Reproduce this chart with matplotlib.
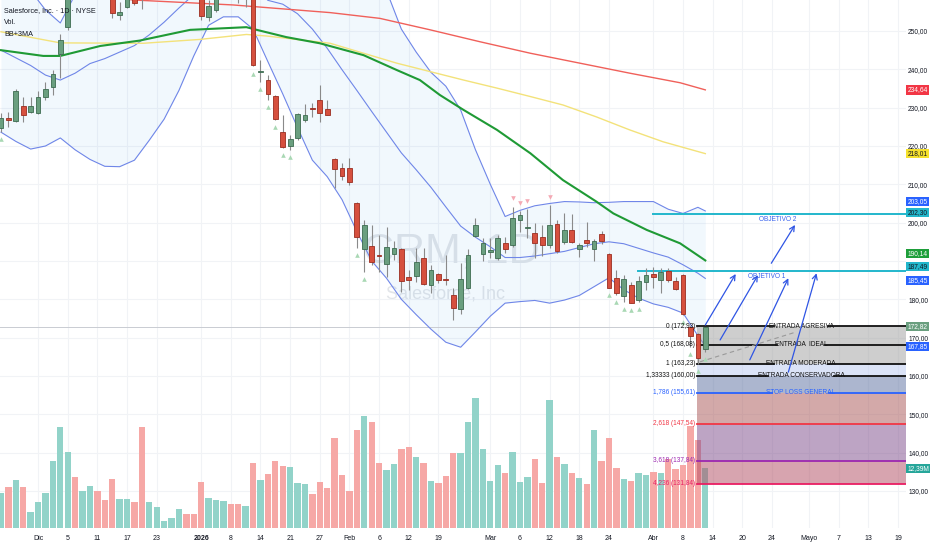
import numpy as np
import pandas as pd
import matplotlib
matplotlib.use('Agg')
import matplotlib.pyplot as plt
from matplotlib.transforms import blended_transform_factory

plt.rcParams['font.family'] = ['Liberation Sans Narrow', 'Liberation Sans', 'DejaVu Sans']

#NYSE sessions, holidays removed
holidays = ['2025-11-27', '2025-12-25', '2026-01-01', '2026-01-19', '2026-02-16', '2026-04-03']
sessions = pd.bdate_range('2025-11-21', '2026-05-22')
sessions = sessions[~sessions.isin(pd.to_datetime(holidays))]

#Daily candles CRM (21 Nov 2025 - 13 Apr 2026)
opens = [224.7, 227.4, 226.5, 230.4, 228.9, 228.6, 232.8, 235.4, 244.0, 251.0,
         262.0, 259.5, 261.0, 263.5, 262.0, 260.0, 254.2, 256.3, 261.0, 262.0,
         259.0, 261.0, 263.0, 264.0, 264.0, 265.0, 264.0, 261.0, 253.7, 255.5,
         261.0, 264.0, 262.0, 259.0, 261.0, 239.2, 237.2, 233.0, 223.6, 220.0,
         222.1, 226.8, 229.8, 232.0, 229.7, 216.6, 214.3, 214.3, 205.1, 193.1,
         193.9, 191.4, 189.1, 191.8, 193.1, 185.8, 186.2, 190.9, 183.7, 186.6,
         185.3, 181.1, 177.4, 182.9, 196.5, 191.7, 192.3, 190.7, 194.8, 194.2,
         200.7, 198.5, 197.2, 196.2, 194.2, 199.6, 194.9, 198.1, 193.0, 195.5,
         193.0, 197.0, 191.8, 185.5, 180.9, 183.7, 179.8, 184.6, 186.5, 185.0,
         187.4, 184.9, 186.3, 172.9, 171.0, 167.0]
highs = [228.6, 228.9, 234.9, 232.8, 232.8, 234.3, 236.7, 239.8, 249.2, 262.0,
         264.0, 263.0, 265.0, 264.5, 263.0, 261.0, 257.5, 261.0, 262.5, 263.0,
         262.0, 264.0, 264.5, 265.5, 266.0, 266.0, 265.0, 262.0, 258.0, 262.0,
         265.0, 265.0, 263.0, 263.0, 262.0, 242.4, 238.5, 233.3, 228.1, 222.9,
         228.6, 231.0, 231.2, 235.9, 232.0, 216.8, 215.6, 216.9, 205.3, 200.7,
         199.4, 196.8, 198.9, 195.2, 193.3, 187.6, 193.3, 193.3, 188.9, 186.8,
         191.5, 182.9, 189.4, 193.0, 201.1, 195.9, 195.9, 196.8, 196.2, 204.2,
         203.0, 203.5, 199.8, 199.4, 204.6, 200.7, 202.4, 202.2, 194.6, 200.2,
         195.8, 197.9, 192.0, 187.6, 186.3, 184.6, 186.1, 188.2, 188.5, 188.1,
         188.1, 185.9, 186.5, 172.93, 171.2, 172.9]
lows = [223.6, 225.0, 226.3, 226.3, 228.6, 228.3, 232.0, 233.3, 237.7, 250.2,
        258.5, 258.8, 260.0, 259.5, 258.3, 253.4, 252.9, 256.0, 256.8, 255.7,
        258.5, 260.0, 262.5, 263.5, 262.5, 263.0, 261.0, 252.9, 252.6, 255.0,
        260.0, 259.5, 257.3, 256.3, 240.8, 236.7, 232.0, 226.8, 219.5, 219.0,
        221.6, 226.3, 227.6, 226.3, 228.0, 209.0, 211.1, 209.8, 193.4, 187.2,
        188.9, 187.0, 185.7, 190.3, 182.0, 182.4, 184.6, 183.8, 181.6, 184.2,
        183.7, 174.6, 176.2, 182.7, 196.2, 190.1, 190.7, 190.3, 192.0, 193.7,
        197.6, 195.9, 190.7, 191.3, 193.3, 192.2, 194.4, 194.6, 191.1, 193.7,
        190.0, 194.4, 182.9, 181.1, 179.4, 179.0, 179.4, 182.3, 182.9, 181.6,
        184.6, 182.3, 175.9, 167.5, 163.23, 166.3]
closes = [227.3, 226.9, 234.3, 228.1, 230.4, 232.8, 234.9, 238.8, 247.7, 260.5,
          259.5, 261.5, 263.5, 261.0, 259.0, 254.7, 255.0, 260.0, 257.3, 259.0,
          261.0, 263.0, 264.0, 264.6, 265.0, 264.0, 261.5, 253.9, 256.5, 261.0,
          264.0, 261.0, 260.0, 262.0, 241.1, 239.4, 233.6, 227.0, 219.7, 221.8,
          228.3, 228.1, 229.6, 228.6, 228.1, 214.0, 212.2, 210.6, 196.3, 199.4,
          189.7, 191.2, 193.7, 193.4, 184.8, 185.1, 189.7, 184.0, 187.6, 185.1,
          185.1, 177.8, 185.2, 191.5, 199.4, 194.6, 192.9, 195.9, 193.0, 201.3,
          202.0, 198.7, 194.8, 194.1, 199.4, 192.6, 198.1, 195.0, 194.2, 194.8,
          195.3, 195.1, 182.9, 181.7, 185.3, 179.1, 184.8, 186.3, 185.9, 187.0,
          185.0, 182.6, 176.1, 170.5, 164.6, 172.82]
#Volume in millions
volumes = [7.2, 8.4, 10.0, 8.4, 3.3, 5.4, 7.3, 13.8, 21.0, 15.8,
           10.6, 7.7, 8.7, 7.6, 5.8, 10.2, 6.0, 6.0, 5.3, 20.9,
           5.3, 4.4, 1.5, 2.1, 3.9, 2.9, 2.9, 9.5, 6.2, 5.8,
           5.6, 4.9, 4.9, 4.6, 13.5, 10.0, 11.3, 13.9, 12.9, 12.6,
           9.3, 9.1, 7.1, 9.5, 8.2, 18.6, 11.0, 7.7, 20.3, 23.2,
           21.9, 13.5, 12.0, 13.3, 16.4, 16.8, 14.8, 13.5, 9.8, 9.3,
           10.7, 15.5, 15.5, 22.0, 27.0, 16.4, 9.8, 13.1, 11.4, 15.8,
           9.5, 10.6, 14.4, 9.4, 26.6, 14.8, 13.3, 11.4, 10.3, 9.1,
           20.3, 13.9, 18.7, 12.4, 10.2, 9.8, 11.4, 11.0, 11.6, 11.4,
           14.4, 12.2, 13.1, 21.2, 18.3, 12.39]

#Bollinger bands (read every 2 bars)
band_x = [0, 2, 4, 6, 8, 10, 12, 14, 16, 18, 20, 22, 24, 26, 28, 30, 32, 34, 36, 38, 40, 42, 44, 46,
          48, 50, 52, 54, 56, 58, 60, 62, 64, 66, 68, 70, 72, 74, 76, 78, 80, 82, 84, 86, 88, 90, 92, 94, 95]
bb_upper = [266.4, 264.0, 260.5, 255.5, 252.1, 259.5, 266.5, 271.0, 274.4, 276.0, 276.5, 277.5, 277.5,
            275.5, 271.5, 271.3, 272.3, 273.5, 274.0, 280.0, 284.0, 284.5, 279.0, 273.8, 271.3, 268.0,
            260.5, 250.5, 244.5, 239.2, 235.6, 229.4, 219.0, 210.0, 201.6, 203.2, 204.4, 205.0, 205.5,
            205.4, 205.2, 205.3, 205.5, 205.5, 205.5, 203.5, 202.4, 204.0, 203.05]
bb_basis = [245.0, 243.0, 241.0, 238.5, 237.2, 239.0, 241.5, 242.8, 244.5, 246.2, 249.0, 252.3, 256.0,
            259.5, 261.5, 262.5, 263.0, 262.0, 258.0, 257.0, 254.5, 250.5, 245.5, 239.9, 234.5, 229.0,
            223.6, 218.2, 213.8, 209.2, 204.1, 199.1, 196.2, 193.7, 190.9, 190.9, 191.3, 191.9, 192.5,
            193.5, 194.5, 195.0, 194.5, 193.3, 192.1, 191.0, 189.0, 186.8, 185.45]
bb_lower = [223.6, 221.2, 219.2, 220.0, 222.1, 219.0, 216.5, 214.7, 214.6, 216.3, 221.5, 227.0, 234.5,
            243.5, 251.5, 253.7, 253.7, 250.5, 242.0, 233.6, 224.8, 216.3, 212.0, 206.0, 197.7, 190.0,
            185.5, 180.0, 176.0, 172.2, 168.8, 167.5, 171.5, 175.6, 179.0, 179.4, 179.7, 179.0, 179.8,
            181.0, 183.3, 185.6, 182.5, 180.3, 178.8, 177.9, 176.4, 170.5, 167.85]

#Moving averages
ma_red_x = [0, 17.8, 31.3, 44.4, 51.1, 57.9, 64.6, 71.4, 78.1, 84.8, 91.6, 95]
ma_red = [262.5, 258.1, 256.8, 254.8, 253.3, 250.3, 247.2, 244.2, 241.6, 239.0, 236.5, 234.64]
ma_yellow_x = [0, 8, 19.2, 26.8, 33.1, 35.8, 40.3, 44.4, 48.9, 53.4, 57.9, 62.4, 66.9, 71.4, 75.8,
               80.3, 84.8, 89.3, 95]
ma_yellow = [249.8, 246.9, 246.8, 247.8, 249.1, 248.7, 247.7, 246.8, 244.2, 241.6, 239.4, 237.2, 235.1,
             232.9, 230.7, 227.6, 224.2, 221.1, 218.01]
ma_green_x = [0, 5.7, 8, 13.4, 18.7, 25.5, 33.1, 34.5, 38.5, 43, 48.9, 53.4, 56.5, 59.2, 62.4, 66.9,
              71.4, 75.8, 80.3, 82.6, 87.1, 91.6, 95]
ma_green = [245.0, 243.5, 243.5, 246.1, 247.5, 250.3, 251.0, 250.3, 248.4, 246.8, 243.7, 239.8, 237.2,
            233.3, 229.4, 224.2, 218.1, 211.1, 205.5, 202.4, 198.1, 194.6, 190.14]

#Signal triangles
up_signals = [0, 34, 35, 36, 37, 38, 39, 48, 49, 82, 83, 84, 85, 86, 92, 93, 94, 95]
down_signals = [69, 70, 71, 74]

#Fibonacci levels
fib_prices = [172.93, 168.08, 163.23, 160.00, 155.61, 147.54, 137.84, 131.84]
fib_labels = ['0 (172,93)', '0,5 (168,08)', '1 (163,23)', '1,33333 (160,00)', '1,786 (155,61)',
              '2,618 (147,54)', '3,618 (137,84)', '4,236 (131,84)']
fib_names = ['ENTRADA AGRESIVA', 'ENTRADA  IDEAL', 'ENTRADA MODERADA', 'ENTRADA CONSERVADORA',
             'STOP LOSS GENERAL', '', '', '']
fib_colors = ['#111111', '#111111', '#111111', '#111111', '#2962ff', '#f23645', '#9c27b0', '#e91e63']
fill_colors = ['#9e9e9e', '#9e9e9e', '#b9c8f0', '#5a6ea0', '#a85555', '#7d4a8a', '#b04a60']

objetivo_prices = [187.49, 202.30]

#x axis labels
tick_dates = ['2025-12-01', '2025-12-05', '2025-12-11', '2025-12-17', '2025-12-23', '2026-01-02',
              '2026-01-08', '2026-01-14', '2026-01-21', '2026-01-27', '2026-02-02', '2026-02-06',
              '2026-02-12', '2026-02-19', '2026-03-02', '2026-03-06', '2026-03-12', '2026-03-18',
              '2026-03-24', '2026-04-01', '2026-04-08', '2026-04-14', '2026-04-20', '2026-04-24',
              '2026-05-01', '2026-05-07', '2026-05-13', '2026-05-19']
tick_text = ['Dic', '5', '11', '17', '23', '2026', '8', '14', '21', '27', 'Feb', '6', '12', '19',
             'Mar', '6', '12', '18', '24', 'Abr', '8', '14', '20', '24', 'Mayo', '7', '13', '19']

#Set up figure
W, H = 932, 550
fig = plt.figure(figsize=(W / 100, H / 100), dpi=100)
fig.patch.set_facecolor('white')
pos = [0, 22 / H, 906 / W, 528 / H]
ax_v = fig.add_axes(pos)
ax = fig.add_axes(pos)
ax.patch.set_visible(False)

x0, x1 = -0.135, 122.07
p_lo, p_hi = 120.33, 258.09
ax.set_xlim(x0, x1)
ax.set_ylim(p_lo, p_hi)
ax_v.set_xlim(x0, x1)
ax_v.set_ylim(0, 109.5)
for a in (ax, ax_v):
    for s in a.spines.values():
        s.set_visible(False)
ax_v.set_xticks([])
ax_v.set_yticks([])

idx = np.arange(len(closes))
o = np.array(opens); c = np.array(closes); h = np.array(highs); l = np.array(lows)
up = c >= o

#Grid lines (behind everything)
grid_tr = blended_transform_factory(ax_v.transAxes, ax.transData)
for yv in range(130, 260, 10):
    ax_v.plot([0, 1], [yv, yv], transform=grid_tr, color='#f1f3f6', lw=0.8, zorder=0)
tick_pos = sessions.get_indexer(pd.to_datetime(tick_dates))
for xp in tick_pos:
    ax_v.axvline(xp, color='#f1f3f6', lw=0.8, zorder=0)

#Watermark
ax.text(60.8, 192.6, 'CRM, 1D', fontsize=31, color='#e2e5e9', ha='center', va='center', zorder=0.2)
ax.text(60.0, 181.4, 'Salesforce, Inc', fontsize=13, color='#e2e5e9', ha='center', va='center', zorder=0.2)

#Volume bars
vol_colors = np.where(up, '#92d3c9', '#f6a8a6')
ax_v.bar(idx, volumes, width=0.86, color=vol_colors, zorder=1)

#Bollinger bands + MAs
ax.fill_between(band_x, bb_lower, bb_upper, color='#1e88e5', alpha=0.06, lw=0, zorder=0.3)
for band in (bb_upper, bb_basis, bb_lower):
    ax.plot(band_x, band, color='#6f86e8', lw=0.8, zorder=1)
ax.plot(ma_red_x, ma_red, color='#f0605a', lw=1.0, zorder=1)
ax.plot(ma_yellow_x, ma_yellow, color='#f3e27a', lw=1.0, zorder=1)
ax.plot(ma_green_x, ma_green, color='#1f9a35', lw=1.5, zorder=1.1)

#Fibonacci zone
fib_x0 = 93.9
fs_small = 4.7
for i in range(len(fib_prices) - 1):
    ax.fill_between([fib_x0, x1], fib_prices[i + 1], fib_prices[i], color=fill_colors[i],
                    alpha=0.5, lw=0, zorder=1.5)
for i, (pr, lab, nm, col) in enumerate(zip(fib_prices, fib_labels, fib_names, fib_colors)):
    if nm:
        xm = 107.9
        gap = (len(nm) * 3.0 / 2 + 3) / 7.414
        ax.plot([fib_x0, xm - gap], [pr, pr], color=col, lw=1.3, zorder=2)
        ax.plot([xm + gap, x1], [pr, pr], color=col, lw=1.3, zorder=2)
        ax.text(xm, pr, nm, fontsize=fs_small, color=col, ha='center', va='center', zorder=4)
    else:
        ax.plot([fib_x0, x1], [pr, pr], color=col, lw=1.3, zorder=2)
    ax.text(fib_x0 - 0.25, pr, lab, fontsize=fs_small, color=col, ha='right', va='center', zorder=4)

#Current price line
ax.plot([x0, fib_x0], [closes[-1], closes[-1]], color='#c9ccd2', lw=0.7, zorder=0.4)

#Candles
col_body = np.where(up, '#6a9f7f', '#d6503e')
col_edge = np.where(up, '#3d6b50', '#9b2d20')
ax.vlines(idx, l, h, color='#8a8a8a', lw=0.8, zorder=3)
body_lo = np.minimum(o, c)
body_h = np.maximum(np.abs(c - o), 0.25)
ax.bar(idx, body_h, bottom=body_lo, width=0.64, color=col_body, edgecolor=col_edge,
       linewidth=0.6, zorder=3.2)

#Signal triangles
ax.scatter(idx[up_signals], l[up_signals] - 1.9, marker='^', s=11, color='#a9d8b4', lw=0, zorder=3)
ax.scatter(idx[down_signals], h[down_signals] + 2.1, marker='v', s=11, color='#f4a9b4', lw=0, zorder=3)

#Objetivo lines
ax.plot([85.9, x1], [objetivo_prices[0], objetivo_prices[0]], color='#22b7cc', lw=1.4, zorder=2.5)
ax.plot([87.9, x1], [objetivo_prices[1], objetivo_prices[1]], color='#22b7cc', lw=1.4, zorder=2.5)
ax.text(103.3, objetivo_prices[0] - 1.6, 'OBJETIVO 1', fontsize=fs_small, color='#3560ee', ha='center',
        va='center', zorder=4)
ax.text(104.8, objetivo_prices[1] - 1.5, 'OBJETIVO 2', fontsize=fs_small, color='#3560ee', ha='center',
        va='center', zorder=4)

#Arrows
arrows = [((95.0, 173.3), (99.1, 186.6)),
          ((97.0, 169.4), (102.1, 186.3)),
          ((101.0, 164.2), (106.2, 185.5)),
          ((106.2, 161.0), (110.0, 186.8)),
          ((103.9, 189.4), (107.1, 199.4))]
for start, end in arrows:
    ax.annotate('', xy=end, xytext=start,
                arrowprops=dict(arrowstyle='->', color='#2f55e4', lw=0.9, mutation_scale=9,
                                shrinkA=0, shrinkB=0), zorder=5)
ax.plot([94.3, 107.3], [163.7, 171.5], color='#9a9a9a', lw=0.8, ls=(0, (4, 3)), zorder=2.6)

#Axis ticks
ax.set_xticks(tick_pos)
ax.set_xticklabels(tick_text)
ax.tick_params(axis='x', length=0, labelsize=5.0, labelcolor='#131722', pad=5)
for t, s in zip(ax.get_xticklabels(), tick_text):
    if s == '2026':
        t.set_fontweight('bold')
ax.yaxis.tick_right()
yt = list(range(130, 260, 10))
ax.set_yticks(yt)
#190,00 sits under the value tags, so it is left blank like on the chart
ax.set_yticklabels(['' if v == 190 else f"{v:.2f}".replace('.', ',') for v in yt])
ax.tick_params(axis='y', length=0, labelsize=4.8, labelcolor='#131722', pad=1.5)

#Right side value labels (price, colour, text colour, shift in points)
price_tags = [(234.64, '#f23645', 'white', 0), (218.01, '#f5e12d', '#131722', 0),
              (203.05, '#2962ff', 'white', 7.0), (202.30, '#22b7cc', '#131722', 0.8),
              (190.14, '#1e9e3a', 'white', 5.0), (187.49, '#22b7cc', '#131722', 2.9),
              (185.45, '#2962ff', 'white', -1.4), (172.82, '#6a9f7f', 'white', 0.3),
              (167.85, '#2962ff', 'white', -0.3)]
for val, bg, fg, dy in price_tags:
    ax.annotate(f"{val:.2f}".replace('.', ','), xy=(1, val), xycoords=('axes fraction', 'data'),
                xytext=(1.0, dy), textcoords='offset points', fontsize=4.8, color=fg,
                ha='left', va='center', annotation_clip=False, zorder=6,
                bbox=dict(boxstyle='square,pad=0.18', fc=bg, ec='none'))
ax_v.annotate(f"{volumes[-1]:.2f}".replace('.', ',') + 'M', xy=(1, volumes[-1]),
              xycoords=('axes fraction', 'data'), xytext=(1.0, 0), textcoords='offset points',
              fontsize=4.8, color='white', ha='left', va='center', annotation_clip=False,
              bbox=dict(boxstyle='square,pad=0.18', fc='#26a69a', ec='none'))

#Header
fig.text(4 / W, 1 - 11 / H, 'Salesforce, Inc. · 1D · NYSE', fontsize=5.2, color='#131722', va='center')
fig.text(4 / W, 1 - 22.7 / H, 'Vol.', fontsize=5.2, color='#131722', va='center')
fig.text(4 / W, 1 - 34 / H, 'BB+3MA', fontsize=5.2, color='#131722', va='center')

fig.savefig('out.png', dpi=100)
